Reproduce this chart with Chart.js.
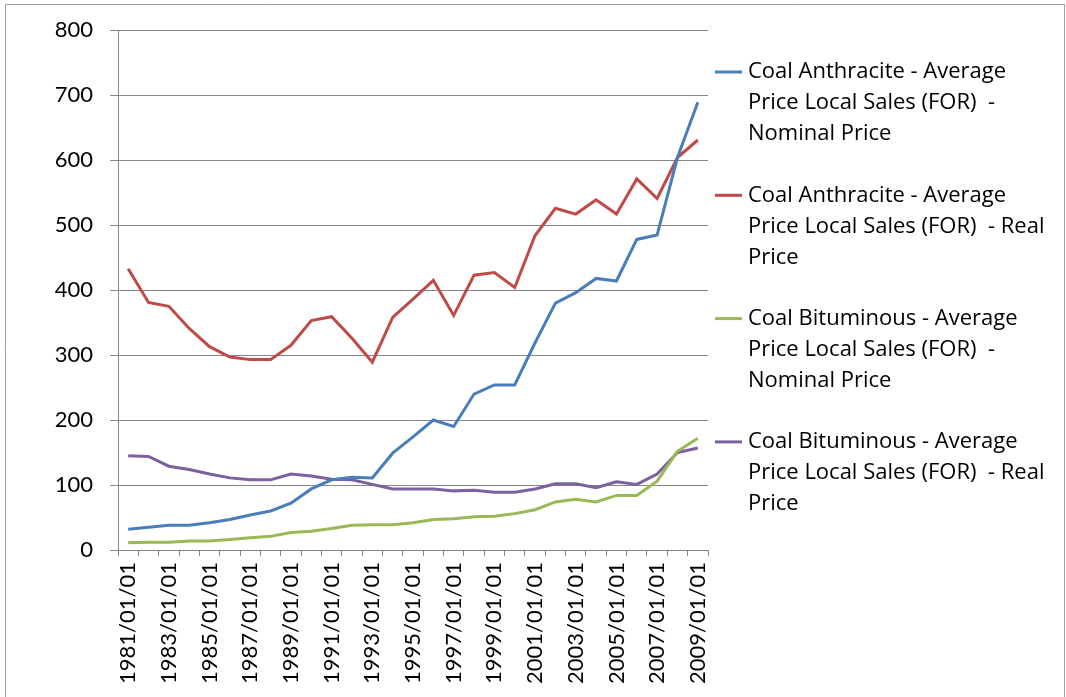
<!DOCTYPE html>
<html>
<head>
<meta charset="utf-8">
<script src="https://cdn.jsdelivr.net/npm/chart.js@4/dist/chart.umd.min.js"></script>
<style>
  body { margin:0; background:#fff; }
  #wrap { position:relative; width:1066px; height:697px; }
</style>
</head>
<body>
<div id="wrap"><canvas id="coalChart" width="1066" height="697"></canvas></div>
<script>
const years = ["1981/01/01","1982/01/01","1983/01/01","1984/01/01","1985/01/01","1986/01/01","1987/01/01","1988/01/01","1989/01/01","1990/01/01",
    "1991/01/01","1992/01/01","1993/01/01","1994/01/01","1995/01/01","1996/01/01","1997/01/01","1998/01/01","1999/01/01","2000/01/01",
    "2001/01/01","2002/01/01","2003/01/01","2004/01/01","2005/01/01","2006/01/01","2007/01/01","2008/01/01","2009/01/01"];

const anthraciteNominal = [32,35,38,38,42,47,54,60,72,94,108,112,111,149,174,200,190,240,254,254,319,380,396,418,414,478,485,604,689];
const anthraciteReal = [433,381,375,341,313,297,293,293,315,353,359,326,289,358,386,415,361,423,427,404,484,526,517,539,517,571,541,604,631];
const bituminousNominal = [11,12,12,14,14,16,19,21,27,29,33,38,39,39,42,47,48,51,52,56,62,74,78,74,84,84,106,152,172];
const bituminousReal = [145,144,129,124,117,111,108,108,117,114,109,108,101,94,94,94,91,92,89,89,94,102,102,96,105,101,117,150,157];

const legendLines = [
    ["Coal Anthracite - Average", "Price Local Sales (FOR)  -", "Nominal Price"],
    ["Coal Anthracite - Average", "Price Local Sales (FOR)  - Real", "Price"],
    ["Coal Bituminous - Average", "Price Local Sales (FOR)  -", "Nominal Price"],
    ["Coal Bituminous - Average", "Price Local Sales (FOR)  - Real", "Price"]
];
const colors = ['#4A7EBB', '#BE4B48', '#98B954', '#7D60A0'];

const FONT = 'Lato, "Open Sans", sans-serif';

// legend + outer frame drawn by hand, like the excel export
const sideLegend = {
    id: 'sideLegend',
    afterDraw(chart) {
        const ctx = chart.ctx;
        ctx.save();
        ctx.strokeStyle = '#a0a0a0';
        ctx.lineWidth = 1;
        ctx.beginPath();
        ctx.moveTo(5.5, 697); ctx.lineTo(5.5, 4.5); ctx.lineTo(1064.5, 4.5); ctx.lineTo(1064.5, 697);
        ctx.stroke();

        ctx.font = '22px "Open Sans", sans-serif';
        ctx.textBaseline = 'middle';
        ctx.fillStyle = '#000';
        chart.data.datasets.forEach((ds, i) => {
            const y0 = 72 + i * 123.3;
            ctx.strokeStyle = ds.borderColor;
            ctx.lineWidth = 3;
            ctx.beginPath();
            ctx.moveTo(715, y0); ctx.lineTo(742, y0);
            ctx.stroke();
            legendLines[i].forEach((t, j) => ctx.fillText(t, 748, y0 + j * 31));
        });
        ctx.restore();
    }
};

const series = [anthraciteNominal, anthraciteReal, bituminousNominal, bituminousReal];

new Chart(document.getElementById("coalChart"), {
    type: 'line',
    data: {
        labels: years,
        datasets: series.map((d, i) => ({
            label: legendLines[i].join(' '),
            data: d,
            borderColor: colors[i],
            backgroundColor: colors[i],
            borderWidth: 3,
            pointRadius: 0,
            tension: 0
        }))
    },
    options: {
        responsive: false,
        animation: false,
        layout: { padding: { top: 24, right: 358, left: 0, bottom: 0 } },
        plugins: {
            legend: { display: false },
            tooltip: { enabled: false }
        },
        scales: {
            x: {
                offset: true,
                afterFit: (s) => { s.height = 147; },
                grid: { offset: true, drawOnChartArea: false, drawTicks: true, tickLength: 6, color: '#868686' },
                border: { color: '#868686', width: 1 },
                ticks: {
                    autoSkip: false,
                    minRotation: 90,
                    maxRotation: 90,
                    padding: 6,
                    color: '#000',
                    font: { family: FONT, size: 22 },
                    callback: function (v, idx) { return idx % 2 === 0 ? this.getLabelForValue(v) : ''; }
                }
            },
            y: {
                min: 0,
                max: 800,
                afterFit: (s) => { s.width = 118; },
                grid: { color: '#868686', tickLength: 8 },
                border: { color: '#868686', width: 1 },
                ticks: {
                    stepSize: 100,
                    padding: 17,
                    color: '#000',
                    font: { family: FONT, size: 22 }
                }
            }
        }
    },
    plugins: [sideLegend]
});
</script>
</body>
</html>
